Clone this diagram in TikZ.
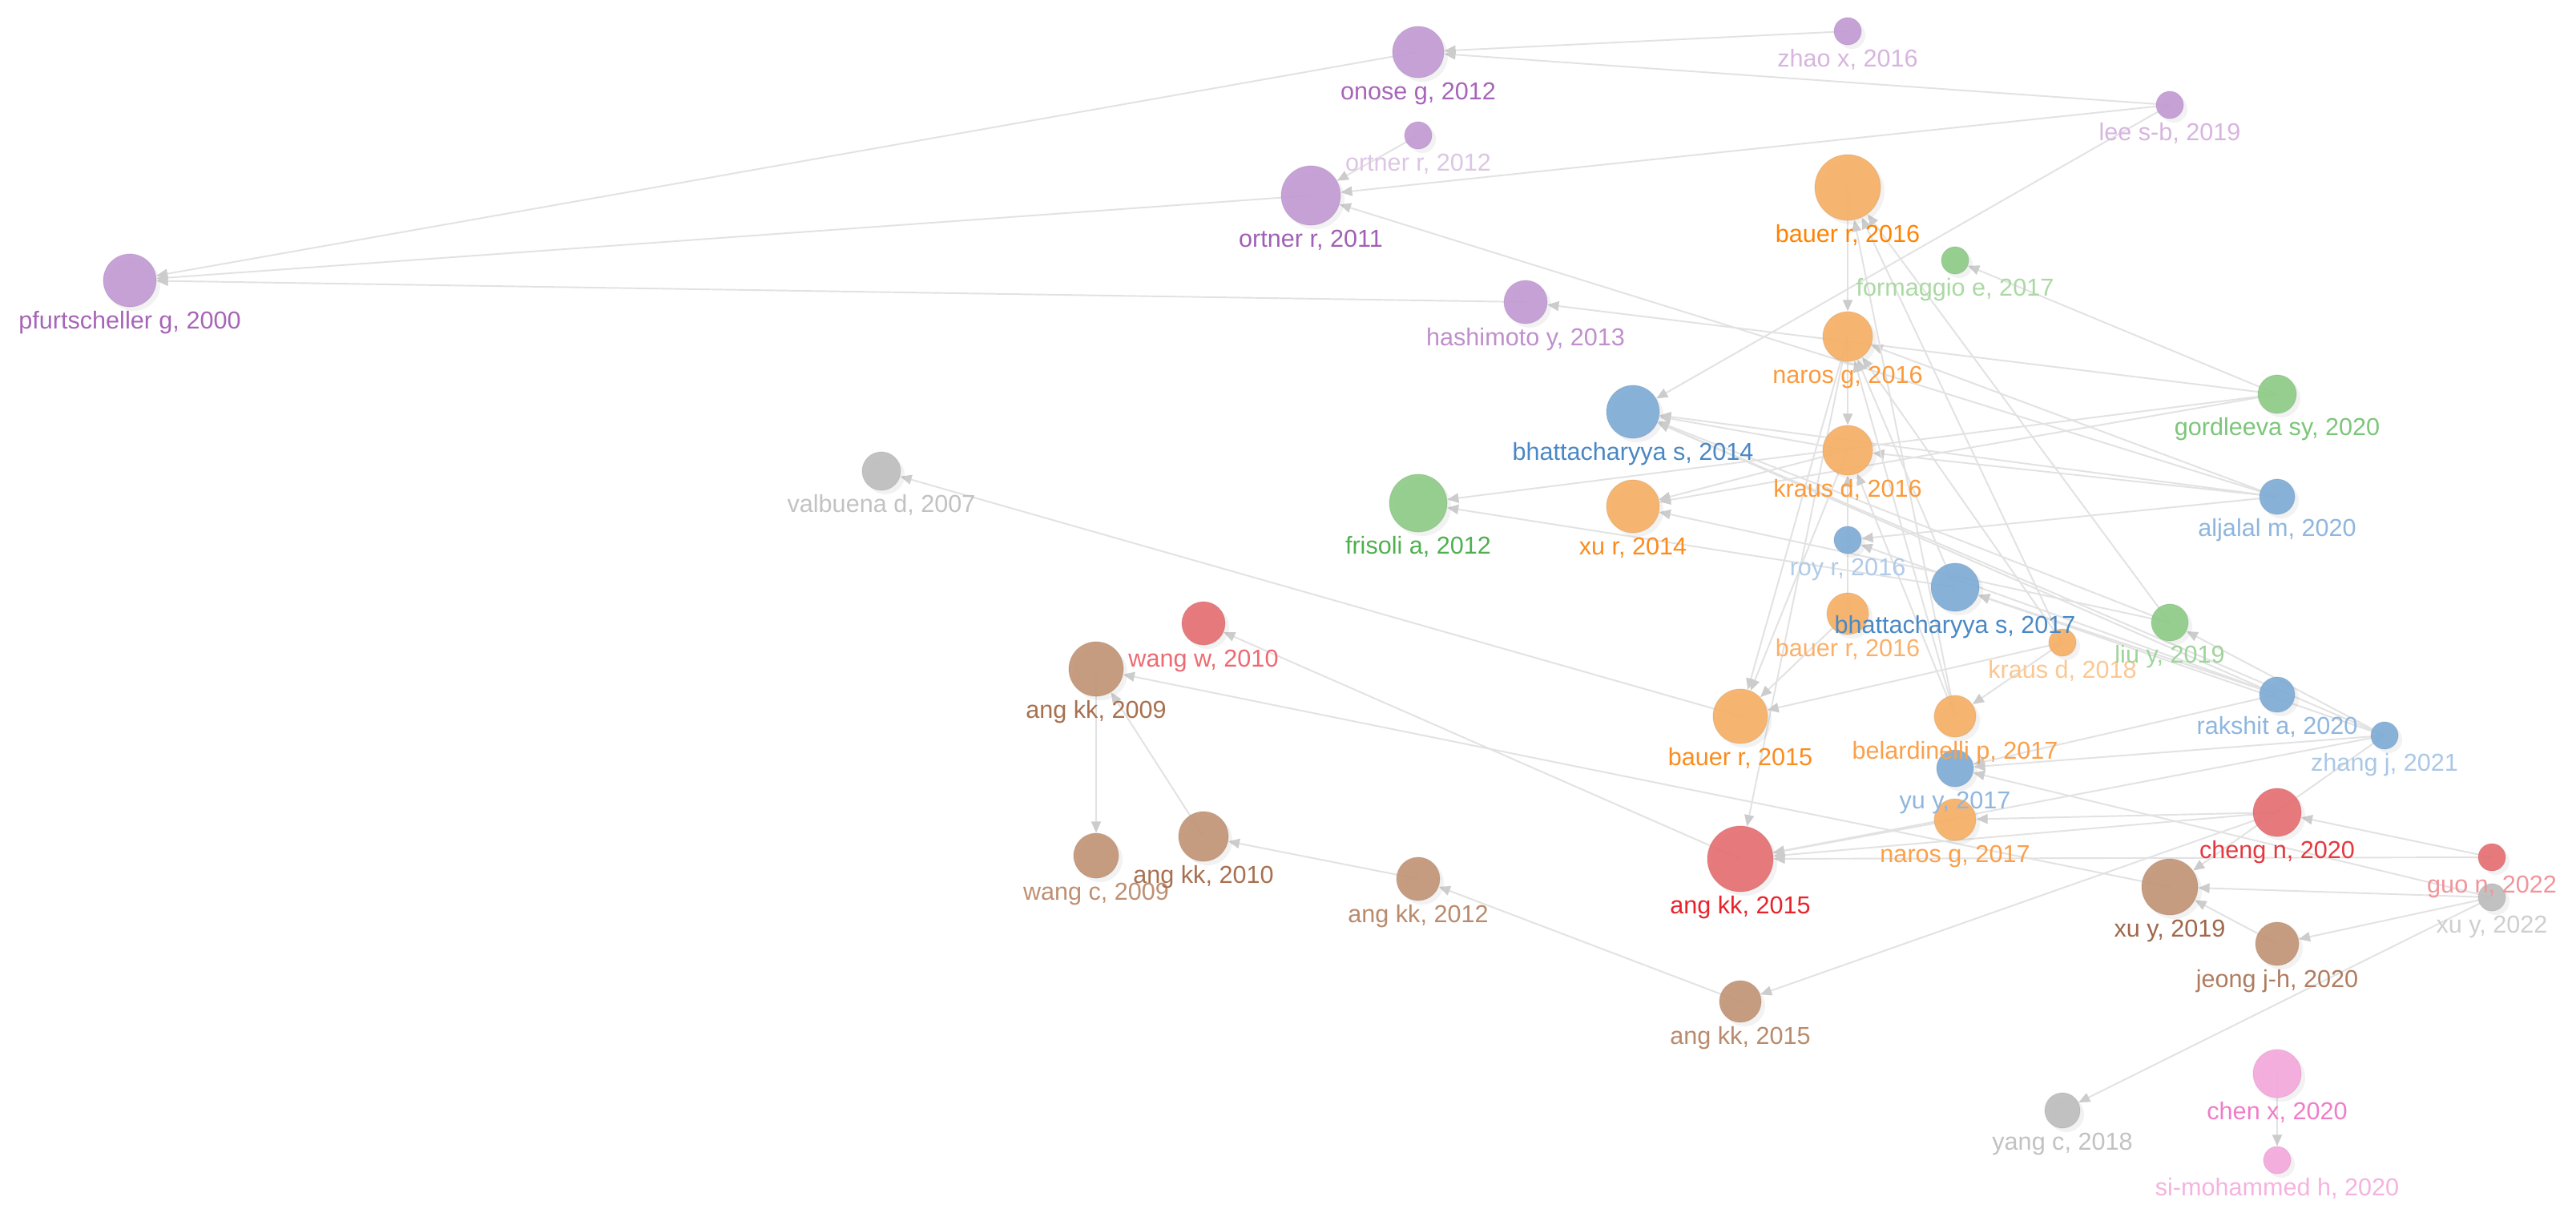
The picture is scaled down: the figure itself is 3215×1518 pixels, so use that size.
\documentclass[tikz,border=0pt]{standalone}
\usepackage{fontspec}
\setmainfont{Liberation Sans}
\usetikzlibrary{arrows.meta,shadows}
\definecolor{cpur}{HTML}{C29BD4}
\definecolor{cora}{HTML}{F6B066}
\definecolor{cblu}{HTML}{80ACD6}
\definecolor{cgre}{HTML}{8ECB87}
\definecolor{cred}{HTML}{E56F73}
\definecolor{cbro}{HTML}{C29577}
\definecolor{cgra}{HTML}{BDBDBD}
\definecolor{cpin}{HTML}{F4A9DC}
\definecolor{edgegray}{HTML}{E2E2E2}
\definecolor{tipgray}{HTML}{CCCCCC}
\pgfdeclarelayer{bg}
\pgfsetlayers{bg,main}
\tikzset{
  cn/.style={circle, inner sep=0pt, draw opacity=0.25, line width=0.3pt, fill opacity=0.92,
    drop shadow={shadow xshift=0.5mm, shadow yshift=-0.5mm, opacity=0.10}},
  lab/.style={anchor=north, inner sep=0pt, font=\fontsize{8.7pt}{9pt}\selectfont},
  ed/.style={draw=edgegray, line width=0.55pt, -{Triangle[length=4pt,width=3.4pt,color=tipgray]}}
}
\newcommand\cnode[5]{\node[cn, minimum size=#4*0.2mm, fill=#5, draw=#5!80!black] (#1) at ({162+134*(#2-2000)},#3) {};}
\newcommand\clab[3]{\definecolor{lc#1}{HTML}{#2}\node[lab, text=lc#1] (#1-l) at ([yshift=-0.45mm]#1.south) {#3};}
\begin{document}
\begin{tikzpicture}[x=0.01cm,y=-0.01cm]
\useasboundingbox (0,0) rectangle (3215,1518);
% nodes
\cnode{pf}{2000}{350}{33}{cpur}
\cnode{on}{2012}{65}{32}{cpur}
\cnode{zh}{2016}{39}{17}{cpur}
\cnode{le}{2019}{131}{17}{cpur}
\cnode{or12}{2012}{169}{17}{cpur}
\cnode{or11}{2011}{244}{37}{cpur}
\cnode{ba16a}{2016}{234}{41}{cora}
\cnode{fo}{2017}{325}{17}{cgre}
\cnode{ha}{2013}{377}{27}{cpur}
\cnode{na16}{2016}{420}{31}{cora}
\cnode{bh14}{2014}{514}{33}{cblu}
\cnode{go}{2020}{492}{24}{cgre}
\cnode{kr16}{2016}{562}{31}{cora}
\cnode{va}{2007}{588}{24}{cgra}
\cnode{fr}{2012}{628}{36}{cgre}
\cnode{xr14}{2014}{632}{33}{cora}
\cnode{al}{2020}{620}{22}{cblu}
\cnode{ro}{2016}{674}{17}{cblu}
\cnode{bh17}{2017}{733}{30}{cblu}
\cnode{ba16b}{2016}{766}{26}{cora}
\cnode{kr18}{2018}{802}{17}{cora}
\cnode{li}{2019}{777}{23}{cgre}
\cnode{ww}{2010}{778}{27}{cred}
\cnode{ak09}{2009}{835}{34}{cbro}
\cnode{ra}{2020}{867}{22}{cblu}
\cnode{zj}{2021}{918}{17}{cblu}
\cnode{ba15}{2015}{894}{34}{cora}
\cnode{be}{2017}{894}{26}{cora}
\cnode{yu}{2017}{959}{23}{cblu}
\cnode{ch}{2020}{1014}{30}{cred}
\cnode{na17}{2017}{1023}{26}{cora}
\cnode{gu}{2022}{1070}{17}{cred}
\cnode{wc}{2009}{1068}{28}{cbro}
\cnode{ak10}{2010}{1044}{31}{cbro}
\cnode{ak12}{2012}{1097}{27}{cbro}
\cnode{ak15r}{2015}{1072}{41}{cred}
\cnode{xy19}{2019}{1107}{35}{cbro}
\cnode{xy22}{2022}{1120}{17}{cgra}
\cnode{je}{2020}{1178}{27}{cbro}
\cnode{ak15b}{2015}{1250}{26}{cbro}
\cnode{ya}{2018}{1386}{22}{cgra}
\cnode{cx}{2020}{1340}{30}{cpin}
\cnode{sm}{2020}{1448}{17}{cpin}
% labels
\clab{pf}{A765B8}{pfurtscheller g, 2000}
\clab{on}{A765B8}{onose g, 2012}
\clab{zh}{D7B5DF}{zhao x, 2016}
\clab{le}{D7B5DF}{lee s-b, 2019}
\clab{or12}{DDC6E4}{ortner r, 2012}
\clab{or11}{A060B5}{ortner r, 2011}
\clab{ba16a}{FF8200}{bauer r, 2016}
\clab{fo}{ABD9A3}{formaggio e, 2017}
\clab{ha}{C08FCC}{hashimoto y, 2013}
\clab{na16}{FB9A3C}{naros g, 2016}
\clab{bh14}{4A88C4}{bhattacharyya s, 2014}
\clab{go}{7CC67A}{gordleeva sy, 2020}
\clab{kr16}{FB9A3C}{kraus d, 2016}
\clab{va}{C2C2C2}{valbuena d, 2007}
\clab{fr}{4FB04F}{frisoli a, 2012}
\clab{xr14}{FB8C1E}{xu r, 2014}
\clab{al}{8FB6DE}{aljalal m, 2020}
\clab{ro}{B0CBE8}{roy r, 2016}
\clab{ba16b}{FBB06A}{bauer r, 2016}
\clab{bh17}{4A88C4}{bhattacharyya s, 2017}
\clab{kr18}{FCC790}{kraus d, 2018}
\clab{li}{9FD49A}{liu y, 2019}
\clab{ww}{EE6A73}{wang w, 2010}
\clab{ak09}{A8704F}{ang kk, 2009}
\clab{ra}{8FB6DE}{rakshit a, 2020}
\clab{zj}{AAC8E6}{zhang j, 2021}
\clab{ba15}{FB8C1E}{bauer r, 2015}
\clab{be}{FBA04A}{belardinelli p, 2017}
\clab{yu}{8FB6DE}{yu y, 2017}
\clab{ch}{E5383F}{cheng n, 2020}
\clab{na17}{FBA04A}{naros g, 2017}
\clab{gu}{F1959B}{guo n, 2022}
\clab{wc}{BF8F72}{wang c, 2009}
\clab{ak10}{A8704F}{ang kk, 2010}
\clab{ak12}{B98A6C}{ang kk, 2012}
\clab{ak15r}{E8232B}{ang kk, 2015}
\clab{xy19}{A0674A}{xu y, 2019}
\clab{xy22}{CFCFCF}{xu y, 2022}
\clab{je}{B07C5F}{jeong j-h, 2020}
\clab{ak15b}{B98A6C}{ang kk, 2015}
\clab{ya}{C2C2C2}{yang c, 2018}
\clab{cx}{F07CC8}{chen x, 2020}
\clab{sm}{F5B3DF}{si-mohammed h, 2020}
% edges
\begin{pgfonlayer}{bg}
\fill[white] (0,0) rectangle (3215,1518);
\foreach \s/\t in {on/pf, or11/pf, ha/pf, zh/on, le/on, le/or11, or12/or11, le/bh14, al/or11, go/ha,
  go/fo, go/fr, go/xr14, al/na16, al/ro, al/bh14, al/kr16,
  ba16a/na16, na16/kr16, ba16b/kr16,
  kr18/ba16a, li/ba16a, be/ba16a,
  na16/ba15, na16/ak15r, kr18/na16, be/na16, bh17/na16,
  kr16/bh14, kr16/xr14, ba16b/ba15, be/kr16, kr16/ba15,
  ba15/va, kr18/ba15,
  zj/bh14, ra/bh14, li/bh14, ra/bh17, zj/bh17, bh17/fr, ra/ro, li/xr14, zj/li,
  kr18/be, xy22/yu, ra/yu, zj/yu,
  na17/ak15r, ch/ak15r, gu/ak15r, zj/ak15r, ak15r/ww,
  gu/ch, ch/na17, ch/ak15b, zj/xy19,
  xy19/ak09, xy22/xy19, je/xy19, xy22/je, xy22/ya,
  ak15b/ak12, ak12/ak10, ak10/ak09, ak09/wc, cx/sm}
  \draw[ed] (\s.center) -- (\t);
\end{pgfonlayer}
\end{tikzpicture}
\end{document}
